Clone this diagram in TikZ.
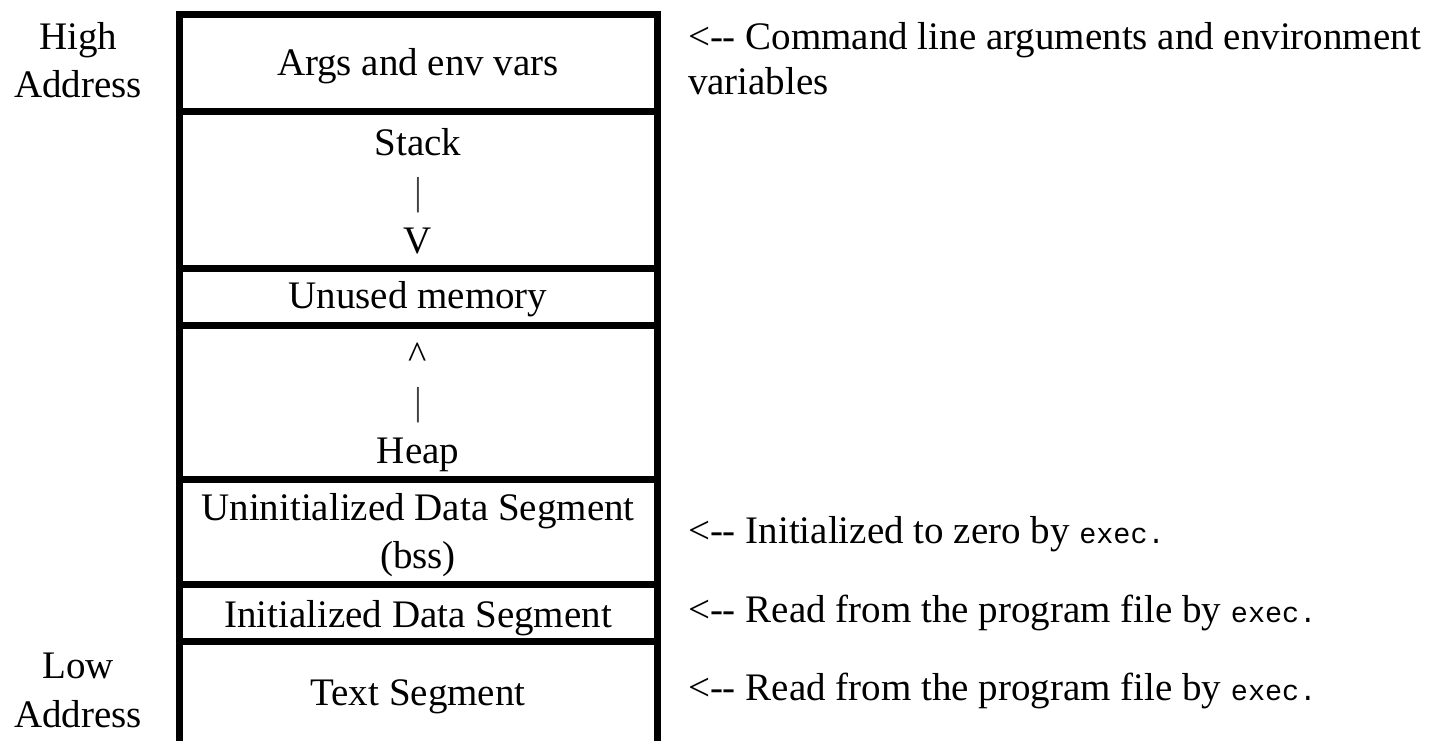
\documentclass[tikz,border=0pt]{standalone}
\usepackage{fontspec}
\setmainfont{Liberation Serif}
\newfontfamily\monof{Liberation Mono}
\newcommand{\execw}{{\monof\fontsize{28.5}{29}\selectfont exec.}}
\begin{document}
\begin{tikzpicture}[x=1pt,y=-1pt,
  every node/.style={inner sep=0pt,outer sep=0pt,font=\fontsize{39}{48}\selectfont},
  seg/.style={draw=black,line width=7pt},
  lbl/.style={anchor=base,align=center},
  note/.style={anchor=base west}]
\useasboundingbox[fill=white] (0,0) rectangle (1434,741);
% segment boundaries
\coordinate (tl) at (179,15);
\coordinate (tr) at (657,15);
\draw[seg] (179,745) -- (179,15) -- (657,15) -- (657,745);
\foreach \y in {112,268,325,479,584,641}
  \draw[seg] (179,\y) -- (657,\y);
% left labels
\node[lbl] (high) at (78,50) {High};
\node[lbl] (high2) at (78,98) {Address};
\node[lbl] (low) at (78,678) {Low};
\node[lbl] (low2) at (78,727) {Address};
% segment labels
\node[lbl] (args) at (418,76) {Args and env vars};
\node[lbl] (stack) at (418,155) {Stack};
\node[lbl,text=black!75] (bar1) at (418,204) {|};
\node[lbl] (v) at (418,253) {V};
\node[lbl] (unused) at (418,308) {Unused memory};
\node[lbl] (caret) at (418,368) {\^{}};
\node[lbl,text=black!75] (bar2) at (418,414) {|};
\node[lbl] (heap) at (418,463) {Heap};
\node[lbl] (bss) at (418,520) {Uninitialized Data Segment};
\node[lbl] (bss2) at (418,568) {(bss)};
\node[lbl] (data) at (418,627) {Initialized Data Segment};
\node[lbl] (text) at (418,705) {Text Segment};
% notes
\node[note] (n1) at (688,50) {<-{}- Command line arguments and environment};
\node[note] (n1b) at (688,95) {variables};
\node[note] (n2) at (688,543) {<-{}- Initialized to zero by \execw};
\node[note] (n3) at (688,622) {<-{}- Read from the program file by \execw};
\node[note] (n4) at (688,700) {<-{}- Read from the program file by \execw};
\end{tikzpicture}
\end{document}
